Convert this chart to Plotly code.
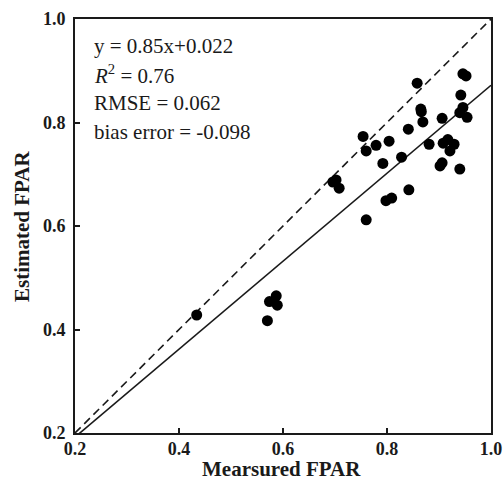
import plotly.graph_objects as go

measured = [0.946, 0.952, 0.858, 0.942, 0.865, 0.866, 0.946, 0.940, 0.954, 0.906,
            0.869, 0.841, 0.754, 0.779, 0.804, 0.760, 0.881, 0.917, 0.908, 0.929,
            0.921, 0.828, 0.792, 0.906, 0.902, 0.940, 0.702, 0.708, 0.696, 0.842,
            0.798, 0.809, 0.760, 0.587, 0.574, 0.589, 0.570, 0.434]
estimated = [0.894, 0.890, 0.876, 0.853, 0.826, 0.821, 0.829, 0.819, 0.810, 0.808,
             0.801, 0.787, 0.773, 0.756, 0.764, 0.745, 0.758, 0.767, 0.760, 0.758,
             0.745, 0.733, 0.721, 0.722, 0.716, 0.710, 0.689, 0.673, 0.685, 0.670,
             0.649, 0.654, 0.612, 0.465, 0.454, 0.447, 0.417, 0.428]

slope, intercept = 0.85, 0.022
axis_min, axis_max = 0.2, 1.0
tick_vals = [0.2, 0.4, 0.6, 0.8, 1.0]
stats_lines = ["y = 0.85x+0.022", "<i>R</i><sup>2</sup> = 0.76", "RMSE = 0.062", "bias error = -0.098"]
x_title = "Mearsured FPAR"
y_title = "Estimated FPAR"

FONT = "Liberation Serif, Times New Roman, serif"
INK = "#1a1a1a"

W, H = 503, 484
ml, mt = 75, 19
pw, ph = 491 - 75, 433 - 19
mr, mb = W - ml - pw, H - mt - ph


def px_to_paper(px, py):
    return (px - ml) / pw, 1 - (py - mt) / ph


fig = go.Figure()
fig.add_trace(go.Scatter(x=[axis_min, axis_max], y=[axis_min, axis_max], mode="lines",
                         line=dict(color=INK, width=1.6, dash="8px,5px"), showlegend=False))
fig.add_trace(go.Scatter(x=[axis_min, axis_max],
                         y=[slope * axis_min + intercept, slope * axis_max + intercept],
                         mode="lines", line=dict(color=INK, width=1.6), showlegend=False))
fig.add_trace(go.Scatter(x=measured, y=estimated, mode="markers",
                         marker=dict(color="black", size=11), showlegend=False))

for i, t in enumerate(stats_lines):
    ax, ay = px_to_paper(92, 46 + i * 28.7)
    fig.add_annotation(x=ax, y=ay, xref="paper", yref="paper", text=t,
                       showarrow=False, xanchor="left", yanchor="middle",
                       font=dict(family=FONT, size=21, color=INK))

tx, ty = px_to_paper(281, 469)
fig.add_annotation(x=tx, y=ty, xref="paper", yref="paper", text="<b>" + x_title + "</b>",
                   showarrow=False, xanchor="center", yanchor="middle",
                   font=dict(family=FONT, size=21, color=INK))
tx, ty = px_to_paper(22, 226)
fig.add_annotation(x=tx, y=ty, xref="paper", yref="paper", text="<b>" + y_title + "</b>",
                   showarrow=False, xanchor="center", yanchor="middle", textangle=-90,
                   font=dict(family=FONT, size=21, color=INK))

axis_common = dict(range=[axis_min, axis_max], tickvals=tick_vals, tickformat=".1f",
                   ticks="inside", ticklen=5, tickwidth=1.5, tickcolor=INK,
                   showline=True, linecolor=INK, linewidth=2, mirror=True,
                   showgrid=False, zeroline=False, automargin=False,
                   tickfont=dict(family=FONT, size=18, color=INK, weight="bold"))
fig.update_layout(
    width=W, height=H,
    margin=dict(l=ml, r=mr, t=mt, b=mb),
    plot_bgcolor="white", paper_bgcolor="white",
    xaxis=dict(**axis_common, ticklabelstandoff=-2),
    yaxis=dict(**axis_common, ticklabelstandoff=4),
)
fig.write_html("out.html", config={"displayModeBar": False},
               post_script="document.body.style.margin='0';document.body.style.overflow='hidden';")
